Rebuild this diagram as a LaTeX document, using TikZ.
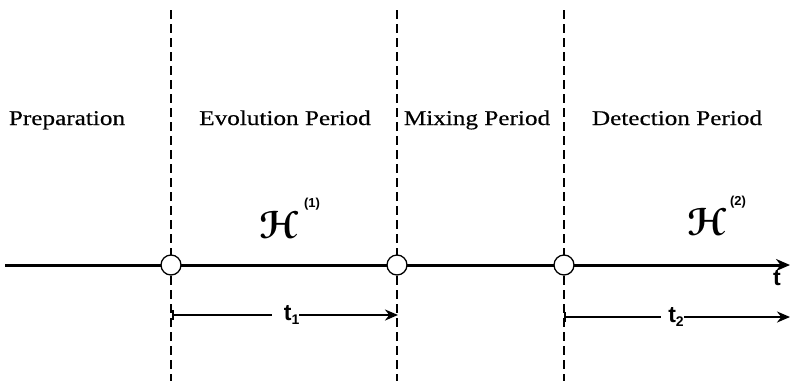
\documentclass[tikz,border=0pt]{standalone}
\usepackage{fontspec}
\setmainfont{Liberation Serif}[FakeStretch=1.2,FakeBold=0.4]
\newfontfamily\lsans{Liberation Sans}
\usepackage[mathscr]{eucal}
\usetikzlibrary{arrows.meta}
\tikzset{
  divider/.style={line width=2.4pt, dash pattern=on 9pt off 5pt},
  axisline/.style={line width=3pt, -{Stealth[length=14pt,width=12pt]}},
  junction/.style={circle, draw, fill=white, line width=1.3pt, minimum size=20pt, inner sep=0pt},
  period/.style={anchor=base, font=\fontsize{21}{24}\selectfont},
  ham/.style={inner sep=0pt, font=\fontsize{20}{24}\selectfont},
  hsup/.style={inner sep=0pt, font=\lsans\bfseries\fontsize{13}{15}\selectfont},
  tlabel/.style={inner sep=0pt, font=\lsans\bfseries\fontsize{23}{25}\selectfont},
  interval/.style={line width=2.6pt, {Bar[width=10pt,line width=2.2pt]}-{Stealth[length=13pt,width=11pt]}},
}
\begin{document}
\begin{tikzpicture}[x=1pt,y=-1pt]
\useasboundingbox (0,0) rectangle (791,381);
% dividers
\coordinate (d1t) at (171,10); \coordinate (d1b) at (171,381);
\coordinate (d2t) at (397,10); \coordinate (d2b) at (397,381);
\coordinate (d3t) at (564,10); \coordinate (d3b) at (564,381);
\draw[divider] (d1t) -- (d1b);
\draw[divider] (d2t) -- (d2b);
\draw[divider] (d3t) -- (d3b);
% period labels
\node[period] (prep) at (67,125) {Preparation};
\node[period] (evo) at (285,125) {Evolution Period};
\node[period] (mix) at (477,125) {Mixing Period};
\node[period] (det) at (677,125) {Detection Period};
% time axis
\coordinate (a0) at (5,265);
\coordinate (a1) at (790,265);
\draw[axisline] (a0) -- (a1);
\node[junction] (c1) at (171,265) {};
\node[junction] (c2) at (397,265) {};
\node[junction] (c3) at (564,265) {};
\node[tlabel, anchor=north east] (tax) at (781,270) {t};
% Hamiltonians
\node[ham] (h1) at (279,225) {\scalebox{1.95}{\boldmath$\mathscr{H}$}};
\node[hsup] (h1s) at (312,204) {(1)};
\node[ham] (h2) at (707,222) {\scalebox{1.95}{\boldmath$\mathscr{H}$}};
\node[hsup] (h2s) at (738,202) {(2)};
% intervals
\coordinate (i1a) at (172,315); \coordinate (i1b) at (398,315);
\coordinate (i2a) at (564,317); \coordinate (i2b) at (790,317);
\draw[interval] (i1a) -- node[tlabel, fill=white, inner xsep=0pt, inner ysep=2pt, pos=0.503] (t1) {\hspace{12pt}t\raisebox{-4pt}{\fontsize{14}{14}\selectfont 1}\hspace{7pt}} (i1b);
\draw[interval] (i2a) -- node[tlabel, fill=white, inner xsep=0pt, inner ysep=2pt, pos=0.48] (t2) {\hspace{7pt}t\raisebox{-4pt}{\fontsize{14}{14}\selectfont 2}\hspace{3pt}} (i2b);
\end{tikzpicture}
\end{document}
